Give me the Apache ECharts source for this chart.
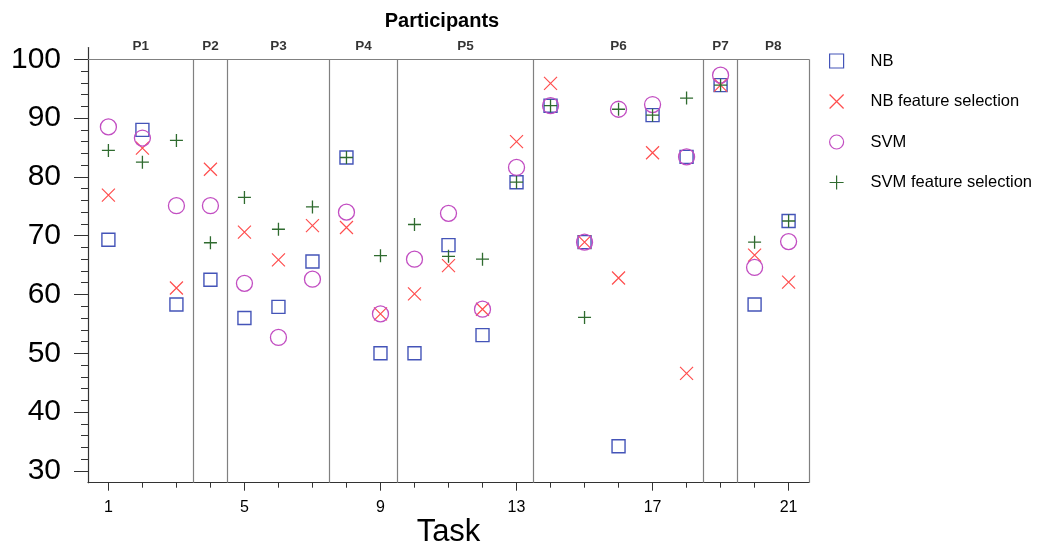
<!DOCTYPE html>
<html>
<head>
<meta charset="utf-8">
<script src="https://cdn.jsdelivr.net/npm/echarts@6/dist/echarts.min.js"></script>
<style>html,body{margin:0;padding:0;background:#fff}#c{width:1047px;height:544px}</style>
</head>
<body>
<div id="c"></div>
<script>
// ---- data ----
const tasks = [1,2,3,4,5,6,7,8,9,10,11,12,13,14,15,16,17,18,19,20,21];
const nb      = [69.3,88.0,58.3,62.5,56.0,57.9,65.6,83.3,50.0,50.0,68.4,53.1,79.1,92.1,68.9,34.2,90.5,83.4,95.6,58.3,72.5];
const nbFS    = [76.9,84.9,61.1,81.3,70.6,65.9,71.7,71.4,56.7,60.1,64.9,57.5,86.0,95.9,68.9,62.8,84.1,46.6,95.6,66.7,62.1];
const svm     = [88.5,86.6,75.1,75.1,61.9,52.7,62.6,74.0,56.7,66.0,73.8,57.5,81.6,92.1,68.9,91.5,92.3,83.4,97.3,64.6,69.0];
const svmFS   = [84.5,82.5,86.2,68.8,76.5,71.1,74.9,83.3,66.6,71.9,66.5,66.0,79.1,92.1,56.1,91.5,90.5,93.4,95.6,68.9,72.5];
const participants = ['P1','P2','P3','P4','P5','P6','P7','P8'];
const separators = [3.5,4.5,7.5,9.5,13.5,18.5,19.5];
const xTickLabels = [1,5,9,13,17,21];
const xMinorTicks = tasks;
const yTickLabels = [30,40,50,60,70,80,90,100];
const yMinorTicks = [30,32,34,36,38,40,42,44,46,48,50,52,54,56,58,60,62,64,66,68,70,72,74,76,78,80,82,84,86,88,90,92,94,96,98,100];

// ---- axis ranges ----
const xMin = 0.4, xMax = 21.6, yMin = 28, yFrameTop = 100, yMax = 102;

const FONT = "'Liberation Sans', Arial, sans-serif";
const C_NB = '#4454B8', C_NBFS = '#FF4E4E', C_SVM = '#C24EC2', C_SVMFS = '#2F6B2F';
const SYM_X = 'path://M0,0L10,10M10,0L0,10';
const SYM_PLUS = 'path://M5,0L5,10M0,5L10,5';

const bounds = [xMin].concat(separators, [xMax]);
const pLabels = participants.map((p, i) => ({ name: p, value: [(bounds[i] + bounds[i+1]) / 2, yFrameTop] }));
const sepLines = separators.map(s => [{ coord: [s, yMin] }, { coord: [s, yFrameTop] }]);
sepLines.push([{ coord: [xMin, yFrameTop] }, { coord: [xMax, yFrameTop] }]);
sepLines.push([{ coord: [xMax, yMin] }, { coord: [xMax, yFrameTop] }]);

function pts(arr) { return tasks.map((t, i) => [t, arr[i]]); }

function sc(name, arr, symbol, size, color, bw) {
  return {
    name, type: 'scatter', data: pts(arr), symbol, symbolSize: size,
    itemStyle: { color: 'rgba(0,0,0,0)', borderColor: color, borderWidth: bw, opacity: 1 },
    emphasis: { disabled: true }, z: 3
  };
}
function legItem(name, icon, color) {
  return { name, icon, itemStyle: { color: 'rgba(0,0,0,0)', borderColor: color, borderWidth: 1.2 } };
}

const chart = echarts.init(document.getElementById('c'));
chart.setOption({
  animation: false,
  textStyle: { fontFamily: FONT },
  title: {
    text: 'Participants', left: 437, top: 6, textAlign: 'center',
    textStyle: { fontFamily: FONT, fontSize: 20, fontWeight: 'bold', color: '#000' }
  },
  grid: { left: 88, right: 238, top: 47.5, bottom: 61.3, containLabel: false, outerBoundsMode: 'none' },
  legend: {
    orient: 'vertical', left: 824, top: 47.5, itemWidth: 14, itemHeight: 14, itemGap: 23.5,
    data: [
      legItem('NB', 'rect', C_NB),
      legItem('NB feature selection', SYM_X, C_NBFS),
      legItem('SVM', 'circle', C_SVM),
      legItem('SVM feature selection', SYM_PLUS, C_SVMFS)
    ],
    textStyle: { fontFamily: FONT, fontSize: 16.5, color: '#000', padding: [0, 0, 0, 22] },
    selectedMode: false
  },
  xAxis: [{
    type: 'value', min: xMin, max: xMax,
    name: 'Task', nameLocation: 'middle', nameGap: 34, nameMoveOverlap: false,
    nameTextStyle: { fontFamily: FONT, fontSize: 31, color: '#000' },
    axisLine: { lineStyle: { color: '#333', width: 1.2 } },
    axisTick: { customValues: xTickLabels, length: 8, lineStyle: { color: '#333' } },
    axisLabel: { customValues: xTickLabels, fontSize: 16, color: '#000', margin: 17, fontFamily: FONT },
    splitLine: { show: false }
  }, {
    type: 'value', min: xMin, max: xMax, position: 'bottom',
    axisLine: { show: false },
    axisTick: { customValues: xMinorTicks, length: 5, lineStyle: { color: '#333' } },
    axisLabel: { show: false }, splitLine: { show: false }
  }],
  yAxis: [{
    type: 'value', min: yMin, max: yMax,
    axisLine: { show: true, lineStyle: { color: '#333', width: 1.2 } },
    axisTick: { show: true, customValues: yTickLabels, length: 14, lineStyle: { color: '#333' } },
    axisLabel: { customValues: yTickLabels, fontSize: 30, color: '#000', margin: 27, fontFamily: FONT },
    splitLine: { show: false }
  }, {
    type: 'value', min: yMin, max: yMax, position: 'left',
    axisLine: { show: false },
    axisTick: { show: true, customValues: yMinorTicks, length: 7, lineStyle: { color: '#333' } },
    axisLabel: { show: false }, splitLine: { show: false }
  }],
  series: [
    sc('NB', nb, 'rect', 13, C_NB, 1.4),
    sc('NB feature selection', nbFS, SYM_X, 13, C_NBFS, 1.2),
    sc('SVM', svm, 'circle', 16, C_SVM, 1.3),
    sc('SVM feature selection', svmFS, SYM_PLUS, 13, C_SVMFS, 1.3),
    {
      name: 'frame', type: 'scatter', data: pLabels, symbolSize: 0, silent: true,
      label: { show: true, position: 'top', distance: 6, formatter: '{b}',
               fontFamily: FONT, fontSize: 13.5, fontWeight: 'bold', color: '#000' },
      markLine: {
        silent: true, symbol: ['none', 'none'], label: { show: false },
        lineStyle: { color: '#808080', width: 1.2, type: 'solid' },
        emphasis: { disabled: true },
        data: sepLines
      },
      z: 1
    }
  ]
});
</script>
</body>
</html>
